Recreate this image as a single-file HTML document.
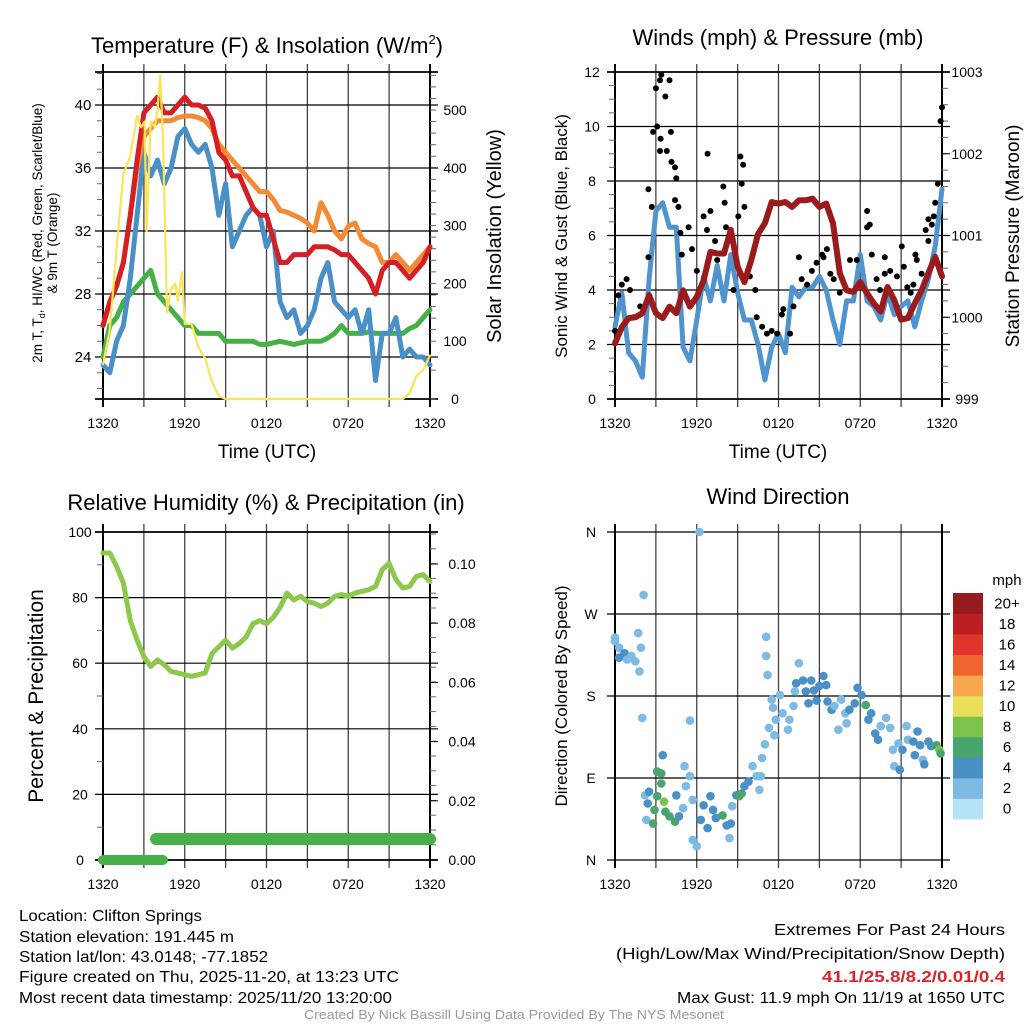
<!DOCTYPE html>
<html><head><meta charset="utf-8"><style>
html,body{margin:0;padding:0;background:#fff;}
svg{display:block;font-family:"Liberation Sans",Arial,sans-serif;}
</style></head><body>
<svg id="c" width="1024" height="1024" viewBox="0 0 1024 1024" xmlns="http://www.w3.org/2000/svg">
<rect width="1024" height="1024" fill="#fff"/>
<text x="267" y="53" font-size="22" text-anchor="middle">Temperature (F) &amp; Insolation (W/m<tspan font-size="13" dy="-9">2</tspan><tspan dy="9">)</tspan></text>
<text x="778" y="45" font-size="22" text-anchor="middle">Winds (mph) &amp; Pressure (mb)</text>
<text x="266" y="510" font-size="22" text-anchor="middle">Relative Humidity (%) &amp; Precipitation (in)</text>
<text x="778" y="504" font-size="22" text-anchor="middle">Wind Direction</text>

<text x="267" y="458" font-size="19" text-anchor="middle">Time (UTC)</text>
<text x="778" y="458" font-size="19" text-anchor="middle">Time (UTC)</text>
<text transform="translate(42,233) rotate(-90)" font-size="13.5" text-anchor="middle">2m T, T<tspan font-size="9" dy="3">d</tspan><tspan dy="-3">, HI/WC (Red, Green, Scarlet/Blue)</tspan></text>
<text transform="translate(57,243) rotate(-90)" font-size="13.5" text-anchor="middle">&amp; 9m T (Orange)</text>
<text transform="translate(501,236) rotate(-90)" font-size="20" text-anchor="middle">Solar Insolation (Yellow)</text>
<text transform="translate(567,236) rotate(-90)" font-size="17" text-anchor="middle">Sonic Wind &amp; Gust (Blue, Black)</text>
<text transform="translate(1019,236) rotate(-90)" font-size="19" text-anchor="middle">Station Pressure (Maroon)</text>
<text transform="translate(43,696) rotate(-90)" font-size="21" text-anchor="middle">Percent &amp; Precipitation</text>
<text transform="translate(567,696) rotate(-90)" font-size="17" text-anchor="middle">Direction (Colored By Speed)</text>

<g font-size="15.5">
<text x="19" y="921" textLength="183" lengthAdjust="spacingAndGlyphs">Location: Clifton Springs</text>
<text x="19" y="942" textLength="215" lengthAdjust="spacingAndGlyphs">Station elevation: 191.445 m</text>
<text x="19" y="962" textLength="249" lengthAdjust="spacingAndGlyphs">Station lat/lon: 43.0148; -77.1852</text>
<text x="19" y="982" textLength="380" lengthAdjust="spacingAndGlyphs">Figure created on Thu, 2025-11-20, at 13:23 UTC</text>
<text x="19" y="1003" textLength="373" lengthAdjust="spacingAndGlyphs">Most recent data timestamp: 2025/11/20 13:20:00</text>
</g>
<g font-size="15.5" text-anchor="end">
<text x="1005" y="935" textLength="231" lengthAdjust="spacingAndGlyphs">Extremes For Past 24 Hours</text>
<text x="1005" y="959" textLength="389" lengthAdjust="spacingAndGlyphs">(High/Low/Max Wind/Precipitation/Snow Depth)</text>
<text x="1005" y="982" fill="#d7262b" font-weight="bold" textLength="183" lengthAdjust="spacingAndGlyphs">41.1/25.8/8.2/0.01/0.4</text>
<text x="1005" y="1003" textLength="328" lengthAdjust="spacingAndGlyphs">Max Gust: 11.9 mph On 11/19 at 1650 UTC</text>
</g>
<text x="514" y="1019" font-size="12.5" fill="#999" text-anchor="middle" textLength="420" lengthAdjust="spacingAndGlyphs">Created By Nick Bassill Using Data Provided By The NYS Mesonet</text>
</svg>
<script>
// ---- data (time in hours since 1320 UTC) ----
const halfHours = [0,0.5,1,1.5,2,2.5,3,3.5,4,4.5,5,5.5,6,6.5,7,7.5,8,8.5,9,9.5,10,10.5,11,11.5,12,12.5,13,13.5,14,14.5,15,15.5,16,16.5,17,17.5,18,18.5,19,19.5,20,20.5,21,21.5,22,22.5,23,23.5,24];
const xTickLabels = ["1320","1920","0120","0720","1320"];
const tempTicks = [24,28,32,36,40];
const solarTicks = [0,100,200,300,400,500];
const windTicks = [0,2,4,6,8,10,12];
const presTicks = [999,1000,1001,1002,1003];
const rhTicks = [0,20,40,60,80,100];
const precipTicks = ["0.00","0.02","0.04","0.06","0.08","0.10"];
const dirLabels = ["N","E","S","W","N"];
const speedBins = ["0","2","4","6","8","10","12","14","16","18","20+"];

const tempRed = [26,27.5,28.5,30,33,36.5,39.5,40,40.5,39.5,39.5,40,40.5,40,40,39.8,39,37,36.5,35.5,35.5,34.5,33.5,33,33,31.5,30,30,30.5,30.5,30.5,31,31,31,30.8,30.5,30.5,30,29.5,29,28,29.5,30,30,29.5,29,29.5,30,31];
const tempOrange = [26,27.5,28.5,30,33,36,38,38.5,39,39,39,39.2,39.3,39.3,39.2,39,38.5,37.5,37,36.5,36,35.5,35,34.5,34.5,34,33.3,33.2,33,32.8,32.5,32,33.8,33,32,31.5,32.3,32.5,31.5,31.2,31,30,30,30.5,30,29.5,30,30.5,31];
const tempBlue = [23.5,23,25,26,29,33,37,35.5,36.5,35,36,38,38.5,37.5,37,37.5,36,33,35,31,32,33,33.5,33,31,32,27.5,26.5,27,25.5,26,27,29,30,27.5,27,26.5,27,25.5,27,22.5,25.5,25.5,26.5,24,24.5,24,24,23.5];
const tempGreen = [24,26,26.5,27.5,28,28.5,29,29.5,28,27.5,27,26.5,26,26,25.5,25.5,25.5,25.5,25,25,25,25,25,24.8,24.8,24.9,25,24.9,24.8,24.9,25,25,25,25.2,25.5,26,25.5,25.5,25.5,25.6,25.5,25.5,25.5,25.5,25.5,25.8,26,26.5,27];
const solarTimes = [0,0.5,1,1.5,2,2.5,2.8,3.05,3.2,3.5,3.8,4,4.2,4.4,4.7,5,5.3,5.5,5.8,6,6.5,7,7.5,8,8.5,9,21,22,22.5,23,23.5,24];
const solarValues = [60,120,260,390,420,490,470,480,290,480,470,500,560,450,150,190,200,170,220,130,130,90,70,30,5,0,0,0,10,40,50,75];

const windBlue = [2.65,3.9,1.7,1.4,0.8,4.4,6.9,7.2,6.3,6.3,1.9,1.4,2.9,4.5,3.6,4.9,3.6,5.3,3.9,2.9,2.9,2.0,0.7,1.9,2.4,1.7,4.1,3.75,4.1,4.1,4.5,4.0,2.9,2.0,3.6,3.6,5.3,3.6,3.4,2.9,3.9,3.1,3.4,3.6,2.65,3.6,4.4,5.6,7.7];
const pressure = [999.68,999.88,999.99,1000.0,1000.05,1000.27,1000.05,999.99,1000.13,1000.05,1000.33,1000.13,1000.25,1000.45,1000.8,1000.78,1000.78,1001.07,1000.62,1000.43,1000.7,1001.02,1001.15,1001.41,1001.39,1001.41,1001.35,1001.43,1001.43,1001.45,1001.35,1001.39,1001.15,1000.54,1000.33,1000.31,1000.43,1000.29,1000.17,1000.07,1000.37,1000.21,999.97,999.99,1000.17,1000.33,1000.54,1000.74,1000.5];
const gustTimes = [0,0.25,0.5,0.85,1.1,1.35,1.85,2.45,2.45,2.7,2.8,3.0,3.1,3.3,3.4,3.7,3.35,3.3,3.8,4.0,4.1,4.15,4.4,4.5,4.4,4.65,4.8,4.9,5.4,5.65,6.0,6.5,6.8,6.75,7.0,7.35,7.5,7.95,8.05,8.15,8.7,9.05,9.2,9.4,9.3,9.5,9.9,10.3,10.4,10.8,11.15,11.5,11.9,12.25,12.35,12.85,13.1,13.5,13.7,14.1,14.45,14.8,15.2,15.3,15.55,15.8,16.05,16.5,17.25,17.75,18.5,18.5,18.7,18.85,19.2,19.45,19.8,19.8,20.2,20.7,21.05,21.2,21.45,21.7,21.9,22.05,22.15,22.5,22.8,23.0,23.25,23.4,23.0,23.5,23.7,23.9,24];
const gustValues = [2.5,3.8,4.2,4.4,4.0,3.0,3.4,5.2,7.7,7.05,9.8,11.4,10.0,11.7,11.9,11.1,9.55,9.1,9.1,11.7,9.8,8.7,8.5,8.1,7.3,7.05,6.1,5.3,6.3,5.5,4.7,6.7,9.0,6.2,6.9,5.8,5.1,7.8,7.2,6.3,4.0,6.7,8.9,8.6,7.9,7.05,4.5,4.0,3.0,2.65,2.4,2.5,2.4,3.1,3.3,2.4,3.4,5.2,4.4,4.2,4.7,5.0,5.3,5.2,5.5,4.6,4.4,3.9,5.1,5.1,6.9,6.3,6.4,5.3,4.4,4.0,5.2,4.6,4.7,4.5,5.6,4.85,4.1,3.9,4.2,5.3,5.1,4.6,6.2,6.6,6.4,6.7,5.8,7.2,7.9,10.2,10.7];

const rh = [93.6,93.6,89.5,84.4,73,67,62,59,61,59.5,57.5,57,56.5,56,56.5,57,63,65,67,64.6,66,68,72,73,72,74,77,81.4,79.3,80.4,78.8,78.3,77.3,78.3,80.4,80.9,80.4,81.4,81.9,82.4,83.4,88.5,90.5,85.5,82.9,83.4,86.5,87,84.9];
const precipTimes = [0,4.4,3.9,24];
const precipValues = [0,0,0.0071,0.0071];

const dirTimes = [0,0,0.3,0.3,0.7,0.9,1.2,1.5,1.8,1.7,1.9,2.1,2.0,2.2,2.4,2.5,2.3,2.8,2.9,3.1,3.1,3.4,3.5,3.6,3.4,3.7,4.0,4.4,4.5,4.7,5.0,5.1,5.2,5.5,5.5,5.7,5.7,6.0,6.2,6.3,6.5,6.8,7.0,7.2,7.4,7.9,8.2,8.4,8.5,8.6,8.9,9.1,9.3,9.5,9.8,10.1,10.4,10.6,10.7,10.8,11.0,11.1,11.1,11.2,11.3,11.5,11.6,11.7,11.8,12.1,12.3,12.7,12.8,13.1,13.2,13.3,13.5,13.8,14.0,14.2,14.4,14.6,14.8,15.0,15.3,15.5,15.6,15.9,16.1,16.4,16.6,16.9,17.0,17.2,17.6,17.8,18.1,18.4,18.6,18.8,19.1,19.3,19.5,19.9,20.2,20.4,20.5,20.8,20.9,21.1,21.4,21.5,21.9,22.0,22.2,22.4,22.6,22.7,23.0,23.2,23.6,23.8,23.9];
const dirValues = [240,244,233,222,227,220,224,218,207,249,233,291,156,71,62,75,44,40,55,70,97,95,115,64,84,53,48,42,71,48,57,103,81,153,92,66,22,15,360,44,60,35,70,55,46,49,38,24,40,59,71,70,73,81,86,103,92,77,92,112,127,224,245,203,145,176,167,137,154,181,161,143,154,169,185,194,216,197,185,172,197,186,175,191,202,192,174,165,169,143,176,161,150,165,172,189,181,170,154,161,139,132,147,156,145,121,103,128,99,121,147,132,130,115,141,126,110,105,130,125,126,121,117];
const dirSpeeds = [2,2,2,4,4,2,2,2,2,1,1,1,1,2,4,4,2,6,6,6,6,6,4,8,6,6,6,6,4,4,2,1,2,1,2,1,2,1,1,4,4,4,4,4,4,6,4,2,4,2,4,6,6,4,4,2,2,2,1,1,1,1,1,1,2,2,2,2,2,2,2,1,1,2,2,4,2,4,4,4,4,4,4,4,4,4,4,4,2,2,2,2,2,4,4,4,4,6,4,4,4,4,2,2,2,2,2,2,4,4,2,2,4,4,4,4,2,4,4,4,6,8,6];

// ---- rendering ----
const NS = "http://www.w3.org/2000/svg";
const svg = document.getElementById('c');
function mk(tag, attrs, parent){
  const e = document.createElementNS(NS, tag);
  for (const k in attrs) e.setAttribute(k, attrs[k]);
  (parent||svg).appendChild(e);
  return e;
}
function scale(d0,d1,r0,r1){ return v => r0 + (v-d0)*(r1-r0)/(d1-d0); }
function pathFrom(xs, ys, fx, fy){
  let d=''; for(let i=0;i<xs.length;i++){ d += (i?'L':'M') + fx(xs[i]).toFixed(1) + ',' + fy(ys[i]).toFixed(1); } return d;
}
function frame(p, name){
  const g = mk('g', {});
  
  
  for (let i=0;i<=8;i++){
    const x = p.fx(i*3);
    const l = mk('line', {x1:x, x2:x, y1:p.top-8, y2:p.bot+8, stroke: (i===0||i===8)?'#000':'#444', 'stroke-width': (i===0||i===8)?2:1.3}, g);
    
    
  }
  for (let i=0;i<5;i++){
    const t = mk('text', {x:p.fx(i*6), y:p.bot+29, 'font-size':14, 'text-anchor':'middle'}, g);
    t.textContent = xTickLabels[i];
    
    
  }
  return g;
}
function hline(g, y, p, isBorder){
  const l = mk('line', {x1:p.left-8, x2:p.right+8, y1:y, y2:y, stroke:'#000', 'stroke-width': isBorder?1.8:1.2}, g);
  
  
}
function label(g, x, y, txt, anchor, name, size){
  const t = mk('text', {x:x, y:y+5, 'font-size':size||14, 'text-anchor':anchor||'middle'}, g);
  t.textContent = txt;
  
  
}
function minorTicks(g, x, dir, y0, y1, step){
  for (let y=y0; y<=y1+0.1; y+=step){
    const l = mk('line', {x1:x, x2:x+dir*6, y1:y, y2:y, stroke:'#666', 'stroke-width':1}, g);
    
    
  }
}
function line(xs, ys, fx, fy, color, w, name, cap){
  const e = mk('path', {d:pathFrom(xs,ys,fx,fy), fill:'none', stroke:color, 'stroke-width':w, 'stroke-linejoin':'round', 'stroke-linecap':cap||'round'});
  
  
  return e;
}

// Panel 1: temperature
{
  const p = {left:103, right:430, top:72, bot:399};
  p.fx = scale(0,24,p.left,p.right);
  const fy = scale(40,24,105,357);
  const fs = scale(0,500,399,110);
  const g = frame(p,'temperature');
  hline(g,p.top,p,true); hline(g,p.bot,p,true);
  minorTicks(g,p.left,-1,73.5,399,15.75);
  minorTicks(g,p.right,1,399-28.9,399,28.9);
  for (let v=100; v<=600; v+=20){ const y=fs(v); if(y>=72) minorTicks(g,p.right,1,y,y,1); }
  tempTicks.forEach(v=>{ hline(g,fy(v),p,false); label(g,83,fy(v),String(v),'middle','temp-tick-label',15); });
  solarTicks.forEach(v=>{ label(g,455,fs(v),String(v),'middle','solar-tick-label',14); });
  line(halfHours,tempGreen,p.fx,fy,'#45b046',5,'series-green-dewpoint');
  line(halfHours,tempBlue,p.fx,fy,'#4a90c8',5,'series-blue-windchill');
  line(halfHours,tempOrange,p.fx,fy,'#f58a35',5,'series-orange-9m-temp');
  line(halfHours,tempRed,p.fx,fy,'#d42025',5,'series-red-2m-temp');
  line(solarTimes,solarValues,p.fx,fs,'#fbe455',2.2,'series-yellow-solar');
}
// Panel 2: winds
{
  const p = {left:615, right:942, top:72, bot:399};
  p.fx = scale(0,24,p.left,p.right);
  const fy = scale(0,12,399,72);
  const fp = scale(999,1003,399,72);
  const g = frame(p,'winds');
  minorTicks(g,p.left,-1,72,399,13.625);
  minorTicks(g,p.right,1,72,399,16.35);
  windTicks.forEach(v=>{ hline(g,fy(v),p,v===0||v===12); label(g,592,fy(v),String(v),'middle','wind-tick-label',14); });
  presTicks.forEach(v=>{ label(g,967,fp(v),String(v),'middle','pressure-tick-label',14); const l=mk('line',{x1:p.right,x2:p.right+8,y1:fp(v),y2:fp(v),stroke:'#000'},g);   });
  line(halfHours,windBlue,p.fx,fy,'#4f94cf',5,'series-sonic-wind');
  for (let i=0;i<gustTimes.length;i++){
    const c = mk('circle',{cx:p.fx(gustTimes[i]).toFixed(1), cy:fy(gustValues[i]).toFixed(1), r:3, fill:'#000'});
    
    
  }
  line(halfHours,pressure,p.fx,fp,'#9b1a1c',6,'series-pressure');
}
// Panel 3: RH & precip
{
  const p = {left:103, right:430, top:532, bot:860};
  p.fx = scale(0,24,p.left,p.right);
  const fy = scale(0,100,860,532);
  const fq = scale(0,0.1,860,564);
  const g = frame(p,'humidity');
  minorTicks(g,p.left,-1,532,860,32.8);
  minorTicks(g,p.right,1,534,860,14.8);
  rhTicks.forEach(v=>{ hline(g,fy(v),p,v===0||v===100); label(g,80,fy(v),String(v),'middle','rh-tick-label',14); });
  precipTicks.forEach(v=>{ label(g,462,fq(parseFloat(v)),v,'middle','precip-tick-label',14); const l=mk('line',{x1:p.right,x2:p.right+8,y1:fq(parseFloat(v)),y2:fq(parseFloat(v)),stroke:'#000'},g);   });
  line(halfHours,rh,p.fx,fy,'#8cc84b',5,'series-relative-humidity');
  line(precipTimes.slice(0,2),precipValues.slice(0,2),p.fx,fq,'#48b048',10,'series-precip-segment-1');
  line(precipTimes.slice(2),precipValues.slice(2),p.fx,fq,'#48b048',12,'series-precip-segment-2');
}
// Panel 4: wind direction
{
  const p = {left:615, right:942, top:532, bot:860};
  p.fx = scale(0,24,p.left,p.right);
  const fy = scale(0,360,860,532);
  const g = frame(p,'wind-direction');
  const colors = ['#b5e2f7','#7dbbe5','#4a8fc6','#49a570','#7dc24b','#e8e05a','#f7a84a','#f0652d','#e0342a','#bd1e24','#961a1e'];
  [0,90,180,270,360].forEach((v,i)=>{ hline(g,fy(v),p,false); label(g,591,fy(v),dirLabels[i],'middle','direction-tick-label',14); });
  for (let i=0;i<dirTimes.length;i++){
    const c = mk('circle',{cx:p.fx(dirTimes[i]).toFixed(1), cy:fy(dirValues[i]).toFixed(1), r:4.3, fill:colors[Math.min(10,Math.round(dirSpeeds[i]/2))]});
    
    
  }
  const cb = mk('g',{});
  
  
  const h = (819-593)/11;
  for (let i=0;i<11;i++){
    const y = 819 - (i+1)*h;
    const r = mk('rect',{x:953, y:y.toFixed(1), width:30, height:(h+0.5).toFixed(1), fill:colors[i]}, cb);
    
    
    label(cb,1007,y+h/2,speedBins[i],'middle','colorbar-label',15);
  }
  label(cb,1007,580,'mph','middle','colorbar-units',15);
}
</script>
</body></html>
